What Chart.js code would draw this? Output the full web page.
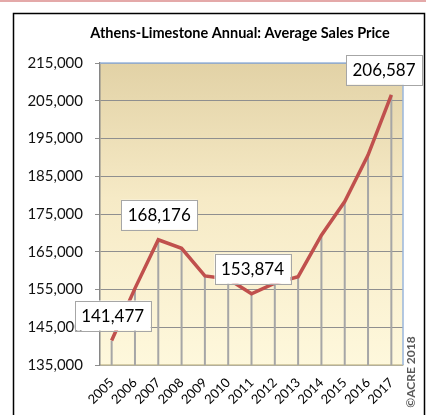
<!DOCTYPE html>
<html><head><meta charset="utf-8">
<script src="https://cdn.jsdelivr.net/npm/chart.js@4/dist/chart.umd.min.js"></script>
<style>html,body{margin:0;padding:0;background:#fff;overflow:hidden}
#wrap{position:absolute;left:0;top:0;width:426px;height:415px}</style>
</head><body>
<div id="wrap"><canvas id="c" width="426" height="415"></canvas></div>
<script>
const titleText = 'Athens-Limestone Annual: Average Sales Price';
const years = ['2005','2006','2007','2008','2009','2010','2011','2012','2013','2014','2015','2016','2017'];
const prices = [141477,155300,168176,165900,158600,157800,153874,156700,158400,169400,178300,190600,206587];
const labeledYears = ['2005','2007','2011','2017'];
const yMin = 135000, yMax = 215000, yStep = 10000;
const credit = '\u00A9ACRE 2018';

const FONT = 'Lato, "Open Sans", sans-serif';

const decor = {
  id: 'decor',
  beforeDraw(chart) {
    const ctx = chart.ctx, a = chart.chartArea;
    ctx.save();
    ctx.fillStyle = '#fff';
    ctx.fillRect(0, 0, chart.width, chart.height);
    ctx.fillStyle = '#e4a9a9';
    ctx.fillRect(0, 0, chart.width, 2);
    ctx.strokeStyle = '#000';
    ctx.lineWidth = 1.5;
    ctx.beginPath();
    ctx.moveTo(13.5, chart.height + 2);
    ctx.lineTo(13.5, 13.5);
    ctx.lineTo(424.5, 13.5);
    ctx.lineTo(424.5, chart.height + 2);
    ctx.stroke();
    const g = ctx.createLinearGradient(0, a.top, 0, a.bottom);
    g.addColorStop(0, '#e2d2a6');
    g.addColorStop(0.45, '#f6eac6');
    g.addColorStop(1, '#fef8dc');
    ctx.fillStyle = g;
    ctx.fillRect(a.left, a.top, a.right - a.left, a.bottom - a.top);
    ctx.fillStyle = '#000';
    ctx.font = 'bold 14.5px ' + FONT;
    ctx.textAlign = 'center';
    ctx.textBaseline = 'middle';
    ctx.fillText(titleText, 240, 33);
    ctx.restore();
  },
  beforeDatasetsDraw(chart) {
    const ctx = chart.ctx, a = chart.chartArea;
    const meta = chart.getDatasetMeta(0);
    ctx.save();
    ctx.strokeStyle = '#a6a6a6';
    ctx.lineWidth = 2;
    meta.data.forEach(p => {
      ctx.beginPath();
      ctx.moveTo(p.x, p.y);
      ctx.lineTo(p.x, a.bottom);
      ctx.stroke();
    });
    ctx.strokeStyle = '#9bb7dc';
    ctx.lineWidth = 1.5;
    ctx.beginPath();
    ctx.moveTo(a.left, a.top);
    ctx.lineTo(a.right, a.top);
    ctx.lineTo(a.right, a.bottom);
    ctx.stroke();
    ctx.restore();
  },
  afterDatasetsDraw(chart) {
    const ctx = chart.ctx;
    const meta = chart.getDatasetMeta(0);
    ctx.save();
    ctx.font = '17px ' + FONT;
    ctx.textAlign = 'center';
    ctx.textBaseline = 'middle';
    labeledYears.forEach(yr => {
      const i = years.indexOf(yr);
      const p = meta.data[i];
      const txt = prices[i].toLocaleString('en-US');
      const w = 76, h = 30;
      let cx = p.x + 1, cy = p.y - 25;
      if (cx + w / 2 > 422) cx = 422 - w / 2;
      ctx.fillStyle = '#fff';
      ctx.fillRect(cx - w / 2, cy - h / 2, w, h);
      ctx.strokeStyle = '#a6a6a6';
      ctx.lineWidth = 1;
      ctx.strokeRect(Math.round(cx - w / 2) + 0.5, Math.round(cy - h / 2) + 0.5, w, h);
      ctx.fillStyle = '#000';
      ctx.fillText(txt, cx, cy + 1);
    });
    ctx.translate(411, 372);
    ctx.rotate(-Math.PI / 2);
    ctx.font = 'bold 12px ' + FONT;
    ctx.fillStyle = '#595959';
    ctx.fillText(credit, 0, 0);
    ctx.restore();
  }
};

new Chart(document.getElementById('c'), {
  type: 'line',
  data: {
    labels: years,
    datasets: [{
      data: prices,
      borderColor: '#c0504d',
      borderWidth: 3.5,
      pointRadius: 0,
      tension: 0,
      fill: false
    }]
  },
  options: {
    responsive: false,
    animation: false,
    events: [],
    layout: { padding: { left: 0, right: 23, top: 63, bottom: 0 } },
    plugins: { legend: { display: false }, title: { display: false }, tooltip: { enabled: false } },
    scales: {
      x: {
        offset: true,
        grid: { display: false, drawOnChartArea: false },
        border: { display: true, color: '#d8cfa8', width: 1.5 },
        ticks: {
          color: '#000',
          font: { family: FONT, size: 13 },
          minRotation: 45,
          maxRotation: 45,
          autoSkip: false,
          padding: 2
        },
        afterFit(s) { s.height = 50; }
      },
      y: {
        min: yMin,
        max: yMax,
        grid: { color: '#8f8f8f', lineWidth: 1, tickLength: 5 },
        border: { display: true, color: '#868686', width: 1.5 },
        ticks: {
          stepSize: yStep,
          color: '#111',
          padding: 12,
          font: { family: FONT, size: 15 },
          callback: v => v.toLocaleString('en-US')
        },
        afterFit(s) { s.width = 100; }
      }
    }
  },
  plugins: [decor]
});
</script>
</body></html>
